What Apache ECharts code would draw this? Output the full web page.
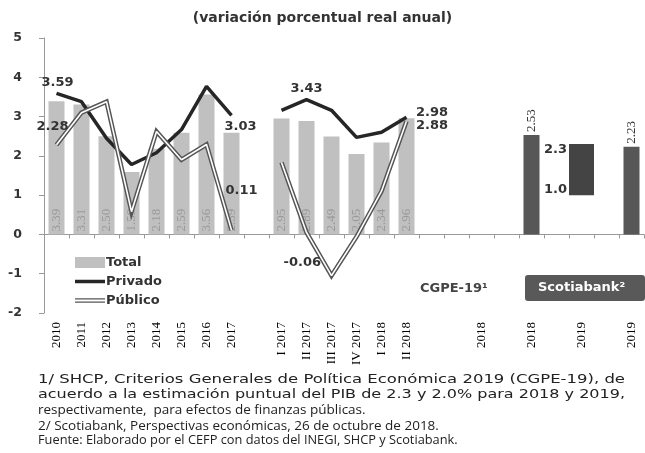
<!DOCTYPE html>
<html>
<head>
<meta charset="utf-8">
<script src="https://cdn.jsdelivr.net/npm/echarts@6/dist/echarts.min.js"></script>
<style>
  html, body { margin: 0; padding: 0; background: #fff; }
  #chart { width: 645px; height: 453px; }
</style>
</head>
<body>
<div id="chart"></div>
<script>
// categorias del eje (los huecos separan anual / trimestral / pronosticos)
const categories = ['2010', '2011', '2012', '2013', '2014', '2015', '2016', '2017', '',
  'I 2017', 'II 2017', 'III 2017', 'IV 2017', 'I 2018', 'II 2018', '', '',
  '2018', '', '2018', '', '2019', '', '2019'];

const total = [3.39, 3.31, 2.50, 1.59, 2.18, 2.59, 3.56, 2.59, null,
  2.95, 2.89, 2.49, 2.05, 2.34, 2.96, null, null,
  null, null, null, null, null, null, null];

const scotiabank = [null, null, null, null, null, null, null, null, null,
  null, null, null, null, null, null, null, null,
  null, null, 2.53, null, null, null, 2.23];

const cgpeBajo = [null, null, null, null, null, null, null, null, null,
  null, null, null, null, null, null, null, null,
  null, null, null, null, 1.0, null, null];
const cgpeAlto = [null, null, null, null, null, null, null, null, null,
  null, null, null, null, null, null, null, null,
  null, null, null, null, 2.3, null, null];

const privado = [3.59, 3.38, 2.45, 1.78, 2.08, 2.67, 3.77, 3.03, null,
  3.16, 3.43, 3.16, 2.47, 2.60, 2.98, null, null,
  null, null, null, null, null, null, null];

const publico = [2.28, 3.10, 3.38, 0.58, 2.62, 1.90, 2.29, 0.11, null,
  1.83, 0.05, -1.05, -0.06, 1.10, 2.88, null, null,
  null, null, null, null, null, null, null];

const notas = [
  '1/ SHCP, Criterios Generales de Política Económica 2019 (CGPE-19), de',
  'acuerdo a la estimación puntual del PIB de 2.3 y 2.0% para 2018 y 2019,',
  'respectivamente,  para efectos de finanzas públicas.',
  '2/ Scotiabank, Perspectivas económicas, 26 de octubre de 2018.',
  'Fuente: Elaborado por el CEFP con datos del INEGI, SHCP y Scotiabank.'
];

const numFont = 'DejaVu Sans';
const labelStyle = { fontFamily: numFont, fontWeight: 'bold', fontSize: 13, color: '#333' };

// etiquetas de las lineas
const privadoLabels = {
  0: { position: 'top', distance: 4, offset: [1, 0] },
  7: { position: 'bottom', distance: 5, offset: [9, -1] },
  10: { position: 'top', distance: 4, offset: [0, 0] },
  14: { position: 'right', distance: 9, offset: [0, -5] }
};
const publicoLabels = {
  0: { position: 'top', distance: 5, offset: [-4, -6] },
  7: { position: 'top', distance: 5, offset: [10, -27] },
  12: { position: 'left', distance: 5, offset: [-30, 26] },
  14: { position: 'right', distance: 9, offset: [0, 4] }
};

function withLabels (arr, conf) {
  return arr.map((v, i) => {
    if (conf[i] && v != null) {
      return {
        value: v,
        symbol: 'circle',
        symbolSize: 1,
        itemStyle: { color: 'rgba(0,0,0,0)', borderWidth: 0 },
        label: Object.assign({ show: true }, labelStyle, conf[i], { formatter: v.toFixed(2) })
      };
    }
    return v;
  });
}

// nota estirada a lo ancho (el original va justificado)
const meas = document.createElement('canvas').getContext('2d');
function notaAncha (line, x, y, width, font, size) {
  meas.font = size + 'px "' + font + '"';
  const w = meas.measureText(line).width;
  return {
    type: 'text', x: x, y: y, scaleX: width / w,
    style: { x: 0, y: 0, text: line, fontFamily: font, fontSize: size, fill: '#222' }
  };
}

const scotiaPts = [];
scotiabank.forEach((v, i) => { if (v != null) scotiaPts.push([i, v]); });

const chart = echarts.init(document.getElementById('chart'));
chart.setOption({
  animation: false,
  backgroundColor: '#fff',
  title: {
    text: '(variación porcentual real anual)',
    left: 'center',
    top: 6,
    textStyle: { fontFamily: numFont, fontSize: 14, fontWeight: 'bold', color: '#333' }
  },
  grid: { left: 44, right: 1, top: 38, bottom: 140 },
  legend: {
    left: 70,
    top: 251,
    orient: 'vertical',
    itemWidth: 30,
    itemHeight: 11,
    itemGap: 6,
    textStyle: { fontFamily: numFont, fontSize: 13, fontWeight: 'bold', color: '#333', padding: [0, 0, 0, -4] },
    data: [
      { name: 'Total', icon: 'rect', itemStyle: { color: '#c0c0c0' } },
      { name: 'Privado', icon: 'path://M0,0H30V3.5H0Z', itemStyle: { color: '#262626' } },
      { name: 'Público', icon: 'path://M0,0H30V1.3H0Z M0,3.2H30V4.5H0Z', itemStyle: { color: '#555' } }
    ]
  },
  xAxis: [
    {
      type: 'category',
      data: categories,
      position: 'bottom',
      axisLine: { show: false, onZero: false },
      axisTick: { show: false },
      axisLabel: {
        interval: 0,
        rotate: 90,
        margin: 9,
        fontFamily: 'Liberation Serif',
        fontSize: 13,
        color: '#000'
      },
      splitLine: { show: false }
    },
    {
      type: 'category',
      data: categories,
      position: 'bottom',
      axisLine: { show: true, onZero: true, lineStyle: { color: '#999', width: 1 } },
      axisTick: { show: true, interval: 0, length: 4, lineStyle: { color: '#999' } },
      axisLabel: { show: false },
      splitLine: { show: false }
    }
  ],
  yAxis: {
    type: 'value',
    min: -2,
    max: 5,
    interval: 1,
    axisLine: { show: true, lineStyle: { color: '#999' } },
    axisTick: { show: true, length: 5, lineStyle: { color: '#999' } },
    axisLabel: { margin: 22, fontFamily: numFont, fontSize: 12.5, fontWeight: 'bold', color: '#333' },
    splitLine: { show: false }
  },
  series: [
    {
      name: 'Total',
      type: 'bar',
      xAxisIndex: 0,
      barWidth: 16,
      barGap: '-100%',
      color: '#c0c0c0',
      itemStyle: { color: '#c0c0c0' },
      label: {
        show: true,
        position: 'insideBottom',
        rotate: 90,
        align: 'left',
        verticalAlign: 'middle',
        distance: 3,
        fontFamily: 'Liberation Serif',
        fontSize: 13,
        color: '#999',
        formatter: p => p.value.toFixed(2)
      },
      data: total
    },
    {
      name: 'Scotiabank',
      type: 'bar',
      xAxisIndex: 0,
      barWidth: 16,
      barGap: '-100%',
      itemStyle: { color: '#575757' },
      data: scotiabank
    },
    {
      // etiquetas verticales sobre las barras de Scotiabank
      name: 'Scotiabank-etq',
      type: 'custom',
      xAxisIndex: 0,
      z: 7,
      renderItem: (params, api) => {
        const p = api.coord([api.value(0), api.value(1)]);
        return {
          type: 'text',
          x: p[0],
          y: p[1] - 3,
          rotation: Math.PI / 2,
          style: {
            text: api.value(1).toFixed(2),
            align: 'left',
            verticalAlign: 'middle',
            fontFamily: 'Liberation Serif',
            fontSize: 13,
            fill: '#333'
          }
        };
      },
      data: scotiaPts
    },
    {
      name: 'cgpe-base',
      type: 'bar',
      xAxisIndex: 1,
      stack: 'cgpe',
      barWidth: 25,
      itemStyle: { color: 'rgba(0,0,0,0)' },
      label: {
        show: true,
        position: [-2, -6],
        align: 'right',
        verticalAlign: 'middle',
        ...labelStyle,
        formatter: p => p.value.toFixed(1)
      },
      data: cgpeBajo
    },
    {
      name: 'cgpe-rango',
      type: 'bar',
      xAxisIndex: 1,
      stack: 'cgpe',
      barWidth: 25,
      itemStyle: { color: '#444' },
      label: {
        show: true,
        position: [-2, 6],
        align: 'right',
        verticalAlign: 'middle',
        ...labelStyle,
        formatter: p => cgpeAlto[p.dataIndex].toFixed(1)
      },
      data: cgpeAlto.map((v, i) => v == null ? null : +(v - cgpeBajo[i]).toFixed(2))
    },
    {
      name: 'Privado',
      type: 'line',
      xAxisIndex: 0,
      color: '#262626',
      symbol: 'none',
      lineStyle: { color: '#262626', width: 3.5 },
      z: 4,
      data: withLabels(privado, privadoLabels)
    },
    {
      name: 'Público',
      type: 'line',
      xAxisIndex: 0,
      color: '#555',
      symbol: 'none',
      lineStyle: { color: '#555', width: 4.5, join: 'miter' },
      z: 5,
      data: publico
    },
    {
      name: 'Público-int',
      type: 'line',
      xAxisIndex: 0,
      color: '#fff',
      symbol: 'none',
      lineStyle: { color: '#fff', width: 1.6 },
      z: 6,
      data: withLabels(publico, publicoLabels)
    }
  ],
  graphic: [
    {
      type: 'text',
      left: 420,
      top: 282,
      style: { text: 'CGPE-19¹', fontFamily: numFont, fontSize: 13, fontWeight: 'bold', fill: '#444' }
    },
    {
      type: 'rect',
      left: 525,
      top: 275,
      shape: { width: 120, height: 26, r: 3 },
      style: { fill: '#595959' }
    },
    {
      type: 'text',
      left: 538,
      top: 281,
      style: { text: 'Scotiabank²', fontFamily: numFont, fontSize: 13, fontWeight: 'bold', fill: '#fff' }
    },
    notaAncha(notas[0], 38, 373, 587, numFont, 13),
    notaAncha(notas[1], 38, 388, 587, numFont, 13),
    { type: 'text', left: 38, top: 403, style: { text: notas[2], fontFamily: 'Open Sans', fontSize: 13.5, fill: '#222' } },
    { type: 'text', left: 38, top: 419, style: { text: notas[3], fontFamily: 'Open Sans', fontSize: 13.5, fill: '#222' } },
    { type: 'text', left: 38, top: 434, style: { text: notas[4], fontFamily: 'Open Sans', fontSize: 12.8, fill: '#222' } }
  ]
});
</script>
</body>
</html>
